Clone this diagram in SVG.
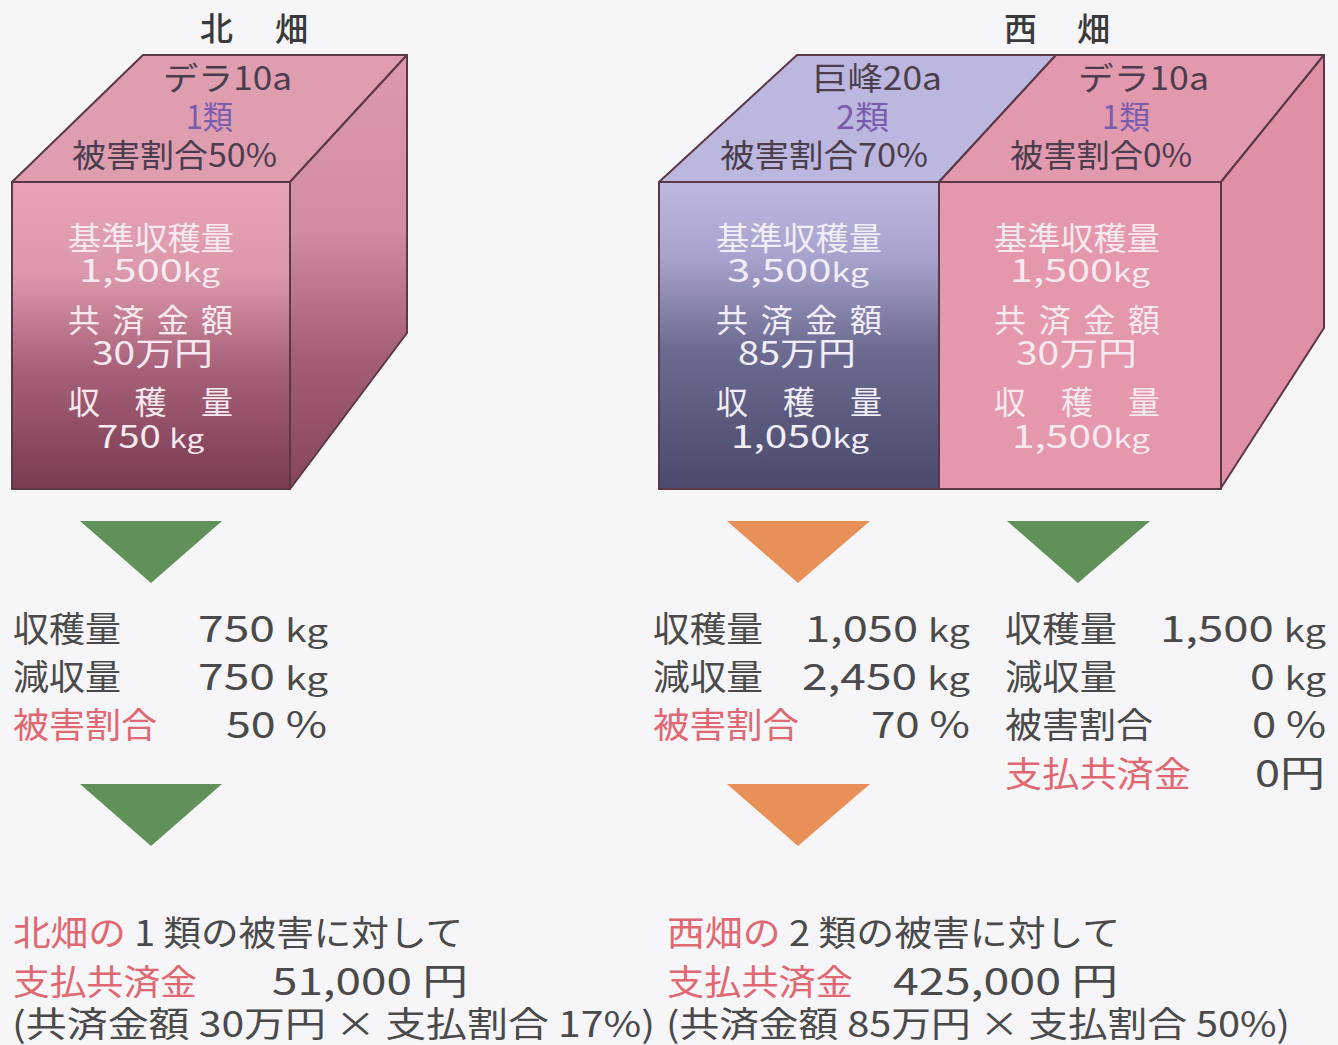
<svg xmlns="http://www.w3.org/2000/svg" width="1338" height="1045" viewBox="0 0 1338 1045">
<defs>
<linearGradient id="nFront" x1="0" y1="182" x2="0" y2="489" gradientUnits="userSpaceOnUse">
<stop offset="0" stop-color="#e8a4b6"/><stop offset="0.3" stop-color="#dc98ab"/><stop offset="0.6" stop-color="#a8627a"/><stop offset="1" stop-color="#7a3b4f"/>
</linearGradient>
<linearGradient id="nRight" x1="0" y1="55" x2="0" y2="489" gradientUnits="userSpaceOnUse">
<stop offset="0" stop-color="#dc9aae"/><stop offset="0.4" stop-color="#d08ca0"/><stop offset="0.7" stop-color="#a45e74"/><stop offset="1" stop-color="#86465a"/>
</linearGradient>
<linearGradient id="wFront" x1="0" y1="182" x2="0" y2="489" gradientUnits="userSpaceOnUse">
<stop offset="0" stop-color="#bdb9e0"/><stop offset="0.25" stop-color="#a6a2cc"/><stop offset="0.55" stop-color="#6c6a90"/><stop offset="1" stop-color="#4a4a6c"/>
</linearGradient>
<style>
.edge{stroke:#5a3848;stroke-width:2;stroke-linejoin:round}
.t{font-family:"Noto Sans CJK JP","Noto Sans",sans-serif}
.title{font-size:33px;fill:#3a3a3a;font-weight:500}
.top{font-size:32px;fill:#4a3e4c}
.cls{font-size:32px;fill:#7a5cae}
.fr{font-size:32px;fill:#f6eaf0}
.frw{font-size:32px;fill:#f1eef8}
.kg{font-size:26px}
.lab{font-size:35px;fill:#4a4a4a}
.red{fill:#e06872}
.num{font-size:37px;fill:#4a4a4a}
.ng{fill:#5f9159}
.no{fill:#e98f58}
</style>
</defs>
<rect width="1338" height="1045" fill="#f6f5f7"/>

<g id="north-title"><text class="t title" x="200" y="41">北</text><text class="t title" x="275" y="41">畑</text></g>
<g id="west-title"><text class="t title" x="1004" y="41">西</text><text class="t title" x="1077" y="41">畑</text></g>

<g id="north-cube">
<polygon class="edge" points="12,182 143,55 407,55 290,182" fill="#df9db0"/>
<polygon class="edge" points="290,182 407,55 407,333 290,489" fill="url(#nRight)"/>
<rect class="edge" x="12" y="182" width="278" height="307" fill="url(#nFront)"/>
<text class="t top" x="163" y="90" textLength="129" lengthAdjust="spacingAndGlyphs">デラ10a</text>
<text class="t cls" x="186" y="129" textLength="47" lengthAdjust="spacingAndGlyphs">1類</text>
<text class="t top" x="72" y="167" textLength="205" lengthAdjust="spacingAndGlyphs">被害割合50%</text>
<text class="t fr" x="68" y="250" textLength="166" lengthAdjust="spacingAndGlyphs">基準収穫量</text>
<text class="t fr" x="79" y="282" textLength="141" lengthAdjust="spacingAndGlyphs">1,500<tspan class="kg">kg</tspan></text>
<text class="t fr" x="68" y="332" textLength="165" lengthAdjust="spacing">共済金額</text>
<text class="t fr" x="92" y="365" textLength="121" lengthAdjust="spacingAndGlyphs">30万円</text>
<text class="t fr" x="68" y="414" textLength="165" lengthAdjust="spacing">収穫量</text>
<text class="t fr" x="97" y="448" textLength="107" lengthAdjust="spacingAndGlyphs">750 <tspan class="kg">kg</tspan></text>
</g>

<g id="west-cube">
<polygon class="edge" points="659,182 797,55 1056,55 939,182" fill="#bcb7de"/>
<polygon class="edge" points="939,182 1056,55 1324,55 1221,182" fill="#e399ad"/>
<polygon class="edge" points="1221,182 1324,55 1324,328 1221,488" fill="#e090a5"/>
<rect class="edge" x="659" y="182" width="280" height="307" fill="url(#wFront)"/>
<rect class="edge" x="939" y="182" width="282" height="307" fill="#e597ab"/>
<text class="t top" x="812" y="90" textLength="130" lengthAdjust="spacingAndGlyphs">巨峰20a</text>
<text class="t cls" x="836" y="129" textLength="53" lengthAdjust="spacingAndGlyphs">2類</text>
<text class="t top" x="720" y="167" textLength="208" lengthAdjust="spacingAndGlyphs">被害割合70%</text>
<text class="t top" x="1078" y="90" textLength="131" lengthAdjust="spacingAndGlyphs">デラ10a</text>
<text class="t cls" x="1102" y="129" textLength="48" lengthAdjust="spacingAndGlyphs">1類</text>
<text class="t top" x="1010" y="167" textLength="182" lengthAdjust="spacingAndGlyphs">被害割合0%</text>
<text class="t frw" x="716" y="250" textLength="166" lengthAdjust="spacingAndGlyphs">基準収穫量</text>
<text class="t frw" x="727" y="282" textLength="142" lengthAdjust="spacingAndGlyphs">3,500<tspan class="kg">kg</tspan></text>
<text class="t frw" x="716" y="332" textLength="166" lengthAdjust="spacing">共済金額</text>
<text class="t frw" x="738" y="365" textLength="118" lengthAdjust="spacingAndGlyphs">85万円</text>
<text class="t frw" x="716" y="414" textLength="166" lengthAdjust="spacing">収穫量</text>
<text class="t frw" x="731" y="448" textLength="138" lengthAdjust="spacingAndGlyphs">1,050<tspan class="kg">kg</tspan></text>
<text class="t fr" x="994" y="250" textLength="166" lengthAdjust="spacingAndGlyphs">基準収穫量</text>
<text class="t fr" x="1010" y="282" textLength="140" lengthAdjust="spacingAndGlyphs">1,500<tspan class="kg">kg</tspan></text>
<text class="t fr" x="994" y="332" textLength="166" lengthAdjust="spacing">共済金額</text>
<text class="t fr" x="1016" y="365" textLength="121" lengthAdjust="spacingAndGlyphs">30万円</text>
<text class="t fr" x="994" y="414" textLength="166" lengthAdjust="spacing">収穫量</text>
<text class="t fr" x="1012" y="448" textLength="138" lengthAdjust="spacingAndGlyphs">1,500<tspan class="kg">kg</tspan></text>
</g>

<g id="connectors">
<polygon class="ng" points="80,521 222,521 151,583"/>
<polygon class="ng" points="80,784 222,784 151,846"/>
<polygon class="no" points="727,521 870,521 798,583"/>
<polygon class="no" points="727,784 870,784 798,846"/>
<polygon class="ng" points="1007,521 1150,521 1078,583"/>
</g>

<g id="north-result">
<text class="t lab" x="13" y="642" textLength="108" lengthAdjust="spacingAndGlyphs">収穫量</text>
<text class="t num" x="198" y="642" textLength="130" lengthAdjust="spacingAndGlyphs">750 <tspan font-size="31">kg</tspan></text>
<text class="t lab" x="13" y="690" textLength="108" lengthAdjust="spacingAndGlyphs">減収量</text>
<text class="t num" x="198" y="690" textLength="130" lengthAdjust="spacingAndGlyphs">750 <tspan font-size="31">kg</tspan></text>
<text class="t lab red" x="13" y="738" textLength="144" lengthAdjust="spacingAndGlyphs">被害割合</text>
<text class="t num red" x="226" y="738" textLength="101" lengthAdjust="spacingAndGlyphs">50 %</text>
</g>

<g id="west-left-result">
<text class="t lab" x="653" y="642" textLength="110" lengthAdjust="spacingAndGlyphs">収穫量</text>
<text class="t num" x="805" y="642" textLength="165" lengthAdjust="spacingAndGlyphs">1,050 <tspan font-size="31">kg</tspan></text>
<text class="t lab" x="653" y="690" textLength="110" lengthAdjust="spacingAndGlyphs">減収量</text>
<text class="t num" x="802" y="690" textLength="168" lengthAdjust="spacingAndGlyphs">2,450 <tspan font-size="31">kg</tspan></text>
<text class="t lab red" x="653" y="738" textLength="146" lengthAdjust="spacingAndGlyphs">被害割合</text>
<text class="t num red" x="871" y="738" textLength="99" lengthAdjust="spacingAndGlyphs">70 %</text>
</g>

<g id="west-right-result">
<text class="t lab" x="1005" y="642" textLength="112" lengthAdjust="spacingAndGlyphs">収穫量</text>
<text class="t num" x="1160" y="642" textLength="166" lengthAdjust="spacingAndGlyphs">1,500 <tspan font-size="31">kg</tspan></text>
<text class="t lab" x="1005" y="690" textLength="112" lengthAdjust="spacingAndGlyphs">減収量</text>
<text class="t num" x="1250" y="690" textLength="76" lengthAdjust="spacingAndGlyphs">0 <tspan font-size="31">kg</tspan></text>
<text class="t lab" x="1005" y="738" textLength="148" lengthAdjust="spacingAndGlyphs">被害割合</text>
<text class="t num" x="1252" y="738" textLength="74" lengthAdjust="spacingAndGlyphs">0 %</text>
<text class="t lab red" x="1005" y="787" textLength="186" lengthAdjust="spacingAndGlyphs">支払共済金</text>
<text class="t num red" x="1255" y="787" textLength="70" lengthAdjust="spacingAndGlyphs">0円</text>
</g>

<g id="north-payment">
<text class="t lab" x="13" y="946" textLength="450" lengthAdjust="spacingAndGlyphs"><tspan class="red">北畑の</tspan> 1 類の被害に対して</text>
<text class="t lab red" x="13" y="995" textLength="184" lengthAdjust="spacingAndGlyphs">支払共済金</text>
<text class="t num red" x="272" y="995" textLength="196" lengthAdjust="spacingAndGlyphs">51,000 円</text>
<text class="t lab" x="12" y="1037" textLength="643" lengthAdjust="spacingAndGlyphs">(共済金額 30万円 × 支払割合 17%)</text>
</g>

<g id="west-payment">
<text class="t lab" x="667" y="946" textLength="453" lengthAdjust="spacingAndGlyphs"><tspan class="red">西畑の</tspan> 2 類の被害に対して</text>
<text class="t lab red" x="667" y="995" textLength="186" lengthAdjust="spacingAndGlyphs">支払共済金</text>
<text class="t num red" x="893" y="995" textLength="225" lengthAdjust="spacingAndGlyphs">425,000 円</text>
<text class="t lab" x="666" y="1037" textLength="624" lengthAdjust="spacingAndGlyphs">(共済金額 85万円 × 支払割合 50%)</text>
</g>
</svg>
